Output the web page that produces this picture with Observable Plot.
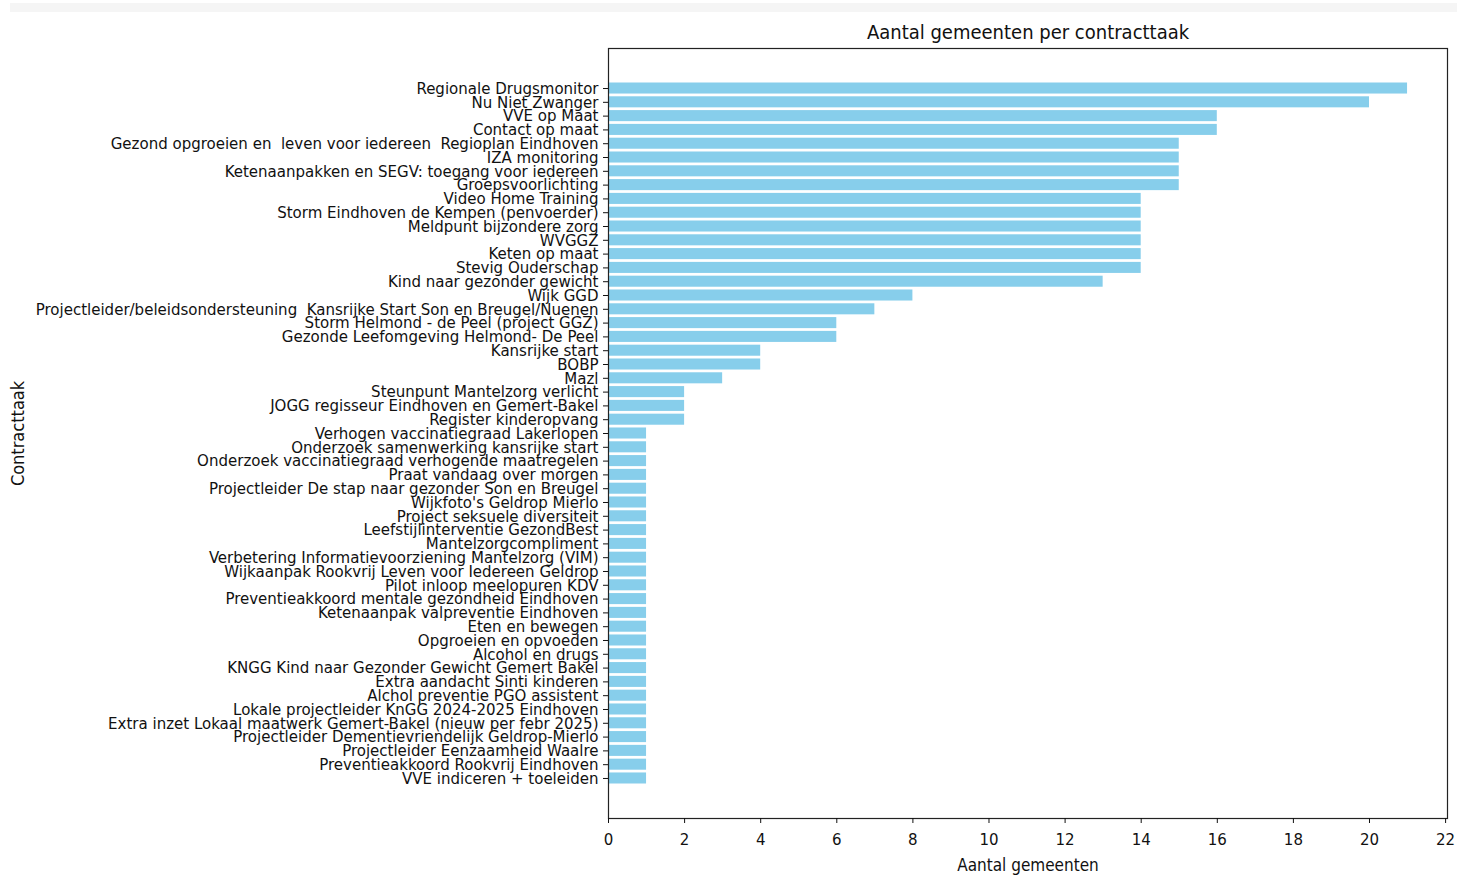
<!DOCTYPE html>
<html>
<head>
<meta charset="utf-8">
<script src="https://cdn.jsdelivr.net/npm/d3@7"></script>
<script src="https://cdn.jsdelivr.net/npm/@observablehq/plot@0.6"></script>
<style>
  html, body { margin: 0; padding: 0; background: #fff; }
  #wrap { position: relative; width: 1457px; height: 875px; overflow: hidden; }
  #strip { position: absolute; left: 10px; top: 3px; width: 1447px; height: 9px; background: #f5f5f5; }
  #chart { position: absolute; left: 0; top: 0; }
</style>
</head>
<body>
<div id="wrap"><div id="strip"></div><div id="chart"></div></div>
<script>
const categories = [
  "Regionale Drugsmonitor",
  "Nu Niet Zwanger",
  "VVE op Maat",
  "Contact op maat",
  "Gezond opgroeien en  leven voor iedereen  Regioplan Eindhoven",
  "IZA monitoring",
  "Ketenaanpakken en SEGV: toegang voor iedereen",
  "Groepsvoorlichting",
  "Video Home Training",
  "Storm Eindhoven de Kempen (penvoerder)",
  "Meldpunt bijzondere zorg",
  "WVGGZ",
  "Keten op maat",
  "Stevig Ouderschap",
  "Kind naar gezonder gewicht",
  "Wijk GGD",
  "Projectleider/beleidsondersteuning  Kansrijke Start Son en Breugel/Nuenen",
  "Storm Helmond - de Peel (project GGZ)",
  "Gezonde Leefomgeving Helmond- De Peel",
  "Kansrijke start",
  "BOBP",
  "Mazl",
  "Steunpunt Mantelzorg verlicht",
  "JOGG regisseur Eindhoven en Gemert-Bakel",
  "Register kinderopvang",
  "Verhogen vaccinatiegraad Lakerlopen",
  "Onderzoek samenwerking kansrijke start",
  "Onderzoek vaccinatiegraad verhogende maatregelen",
  "Praat vandaag over morgen",
  "Projectleider De stap naar gezonder Son en Breugel",
  "Wijkfoto's Geldrop Mierlo",
  "Project seksuele diversiteit",
  "Leefstijlinterventie GezondBest",
  "Mantelzorgcompliment",
  "Verbetering Informatievoorziening Mantelzorg (VIM)",
  "Wijkaanpak Rookvrij Leven voor Iedereen Geldrop",
  "Pilot inloop meelopuren KDV",
  "Preventieakkoord mentale gezondheid Eindhoven",
  "Ketenaanpak valpreventie Eindhoven",
  "Eten en bewegen",
  "Opgroeien en opvoeden",
  "Alcohol en drugs",
  "KNGG Kind naar Gezonder Gewicht Gemert Bakel",
  "Extra aandacht Sinti kinderen",
  "Alchol preventie PGO assistent",
  "Lokale projectleider KnGG 2024-2025 Eindhoven",
  "Extra inzet Lokaal maatwerk Gemert-Bakel (nieuw per febr 2025)",
  "Projectleider Dementievriendelijk Geldrop-Mierlo",
  "Projectleider Eenzaamheid Waalre",
  "Preventieakkoord Rookvrij Eindhoven",
  "VVE indiceren + toeleiden"
];
const values = [
  21, 20, 16, 16, 15, 15, 15, 15, 14, 14, 14, 14, 14, 14, 13, 8, 7, 6, 6, 4, 4, 3, 2, 2, 2,
  1, 1, 1, 1, 1, 1, 1, 1, 1, 1, 1, 1, 1, 1, 1, 1, 1, 1, 1, 1, 1, 1, 1, 1, 1, 1
];
const xTicks = [0, 2, 4, 6, 8, 10, 12, 14, 16, 18, 20, 22];
const title = "Aantal gemeenten per contracttaak";
const xLabel = "Aantal gemeenten";
const yLabel = "Contracttaak";

const data = categories.map((c, i) => ({taak: c, n: values[i]}));
const font = "'DejaVu Sans Condensed', 'DejaVu Sans', sans-serif";

const chart = Plot.plot({
  width: 1457,
  height: 875,
  marginLeft: 608,
  marginRight: 10,
  marginTop: 48,
  marginBottom: 57,
  style: {fontFamily: font, fontSize: "16.7px", color: "#111", background: "transparent", whiteSpace: "pre", fontStretch: "condensed"},
  x: {domain: [0, 22.05]},
  y: {domain: categories, paddingInner: 0.2, paddingOuter: 2.5},
  marks: [
    Plot.barX(data, {x: "n", y: "taak", fill: "#87CEEB"}),
    Plot.frame({stroke: "#222", strokeWidth: 1.2}),
    Plot.axisX({ticks: xTicks, tickSize: 5, tickPadding: 10, label: null, fontSize: 16.7}),
    Plot.axisY({tickSize: 5, tickPadding: 5, label: null, fontSize: 16.7}),
    Plot.text([title], {text: d => d, frameAnchor: "top", dy: -24, fontSize: 20}),
    Plot.text([xLabel], {text: d => d, frameAnchor: "bottom", dy: 52, fontSize: 17}),
    Plot.text([yLabel], {text: d => d, frameAnchor: "left", dx: -590, rotate: -90, textAnchor: "middle", fontSize: 18})
  ]
});
document.getElementById("chart").appendChild(chart);
</script>
</body>
</html>
